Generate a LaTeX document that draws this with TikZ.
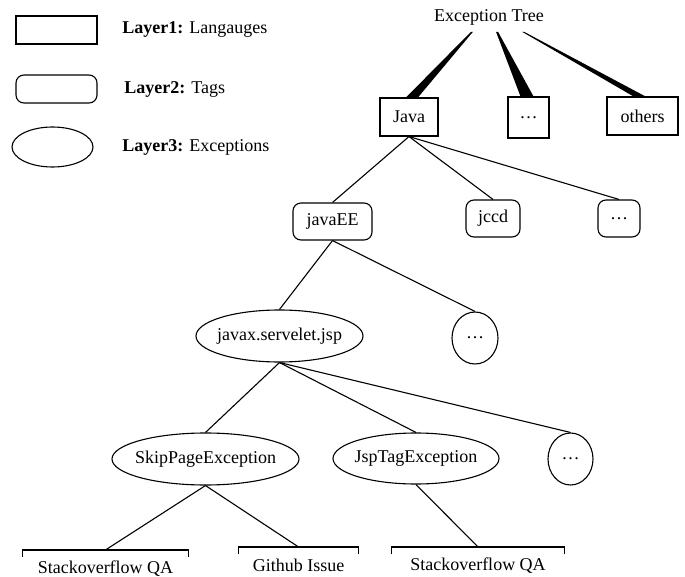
\documentclass[tikz,border=0pt]{standalone}
\usepackage{fontspec}
\setmainfont{Liberation Serif}
\usetikzlibrary{shapes.geometric,positioning}
\tikzset{
  lang/.style={draw,rectangle,minimum height=38pt},
  tag/.style={draw,rounded corners=8pt,minimum height=37pt},
  exc/.style={draw,ellipse,inner sep=0pt,minimum height=52pt},
  leaf/.style={inner sep=0pt,minimum height=36pt},
  wedge/.style={fill=black,draw=none}
}
\newcommand{\inell}[1]{\makebox[0pt]{#1}}
\begin{document}
\begin{tikzpicture}[x=1pt,y=-1pt,line width=1.1pt,font=\fontsize{18}{21}\selectfont]
    \useasboundingbox (0,0) rectangle (685,577);
    \node[lang,minimum width=81pt,minimum height=28pt] (key1) at (56.5,30) {};
    \node[tag,minimum width=81pt,minimum height=28pt] (key2) at (56.5,89) {};
    \node[exc,minimum width=81pt,minimum height=40pt] (key3) at (52.5,147) {};
    \node[right=21pt of key1] (lab1) {\textbf{Layer1:} Langauges};
    \node[right=23pt of key2] (lab2) {\textbf{Layer2:} Tags};
    \node[right=25pt of key3] (lab3) {\textbf{Layer3:} Exceptions};
    \node (root) at (489,17) {Exception Tree};
    \node[lang,minimum width=58pt] (java) at (409,117) {Java};
    \node[lang,minimum width=41pt,minimum height=41pt] (more) at (528.5,117.5) {\dots};
    \node[lang,minimum width=71pt] (others) at (642.5,116) {others};
    \fill[wedge] ([xshift=-18pt,yshift=-3pt]root.south) -- ([xshift=-3pt]java.north) -- ([xshift=9pt]java.north) -- ([xshift=-16pt,yshift=-3pt]root.south) -- cycle;
    \fill[wedge] ([xshift=7pt,yshift=-3pt]root.south) -- ([xshift=-8pt]more.north) -- ([xshift=5pt]more.north) -- ([xshift=9pt,yshift=-3pt]root.south) -- cycle;
    \fill[wedge] ([xshift=33pt,yshift=-3pt]root.south) -- ([xshift=-9pt]others.north) -- ([xshift=3pt]others.north) -- ([xshift=35pt,yshift=-3pt]root.south) -- cycle;
    \node[tag,minimum width=79pt] (javaee) at (332.5,221.5) {javaEE};
    \node[tag,minimum width=54pt] (jccd) at (493,218.5) {jccd};
    \node[tag,minimum width=42pt] (moretag) at (619,218.5) {\dots};
    \draw (java.south) -- (javaee.north);
    \draw (java.south) -- (jccd.north);
    \draw (java.south) -- (moretag.north);
    \node[exc,minimum width=167pt] (jsp) at (279.5,336) {\inell{javax.servelet.jsp}};
    \node[exc,minimum width=46pt] (moreexc) at (475,338) {\inell{\dots}};
    \draw (javaee.south) -- (jsp.north);
    \draw (javaee.south) -- (moreexc.north);
    \node[exc,minimum width=187pt] (skip) at (205.5,459) {\inell{SkipPageException}};
    \node[exc,minimum width=166pt,minimum height=51pt] (jsptag) at (416,458.5) {\inell{JspTagException}};
    \node[exc,minimum width=45pt] (moreexc2) at (570.5,459) {\inell{\dots}};
    \draw (jsp.south) -- (skip.north);
    \draw (jsp.south) -- (jsptag.north);
    \draw (jsp.south) -- (moreexc2.north);
    \node[leaf,minimum width=165pt] (qa1) at (105.5,568.5) {Stackoverflow QA};
    \node[leaf,minimum width=119pt] (issue) at (298.5,565.5) {Github Issue};
    \node[leaf,minimum width=172pt] (qa2) at (478,565.5) {Stackoverflow QA};
    \draw ([yshift=-7pt]qa1.north west) -- (qa1.north west) -- (qa1.north east) -- ([yshift=-7pt]qa1.north east);
    \draw ([yshift=-7pt]issue.north west) -- (issue.north west) -- (issue.north east) -- ([yshift=-7pt]issue.north east);
    \draw ([yshift=-7pt]qa2.north west) -- (qa2.north west) -- (qa2.north east) -- ([yshift=-7pt]qa2.north east);
    \draw (skip.south) -- (qa1.north);
    \draw (skip.south) -- (issue.north);
    \draw (jsptag.south) -- (qa2.north);
\end{tikzpicture}
\end{document}
